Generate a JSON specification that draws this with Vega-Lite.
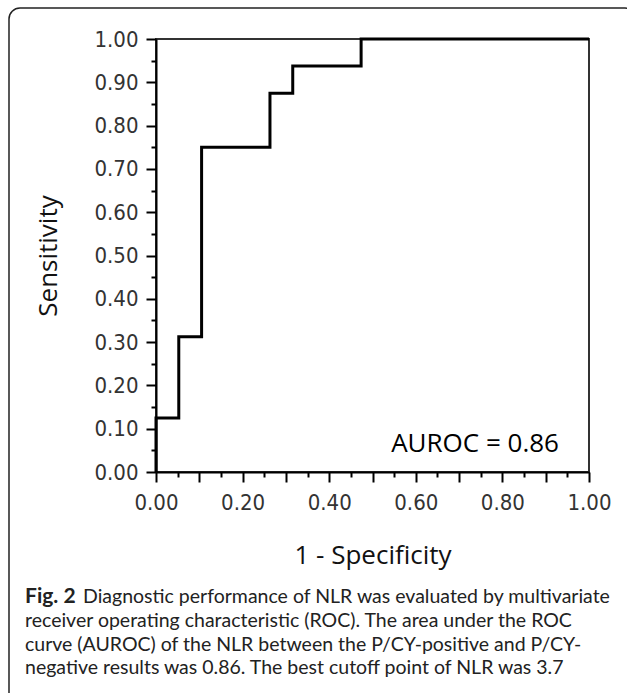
{
  "$schema": "https://vega.github.io/schema/vega-lite/v6.json",
  "autosize": "none",
  "width": 433,
  "height": 433,
  "padding": {"left": 156, "top": 39, "right": 38, "bottom": 221},
  "background": "#ffffff",
  "config": {
    "view": {"stroke": "#333333", "strokeWidth": 2},
    "axis": {"grid": false, "labelFlush": false, "labelOverlap": false}
  },
  "resolve": {"axis": {"x": "independent", "y": "independent"}},
  "layer": [
    {
      "data": {"values": [{}]},
      "mark": {"type": "rect", "fillOpacity": 0, "stroke": "#222222", "strokeWidth": 1.5, "cornerRadius": 11, "clip": false},
      "encoding": {
        "x": {"datum": -0.3395, "type": "quantitative", "scale": {"domain": [0, 1], "nice": false}, "axis": null},
        "x2": {"datum": 1.1085},
        "y": {"datum": 1.0716, "type": "quantitative", "scale": {"domain": [0, 1], "nice": false}, "axis": null},
        "y2": {"datum": -0.58}
      }
    },
    {
      "data": {"name": "roc", "values": [
        {"i": 0, "fpr": 0, "tpr": 0},
        {"i": 1, "fpr": 0, "tpr": 0.125},
        {"i": 2, "fpr": 0.0526, "tpr": 0.3125},
        {"i": 3, "fpr": 0.1053, "tpr": 0.75},
        {"i": 4, "fpr": 0.2632, "tpr": 0.875},
        {"i": 5, "fpr": 0.3158, "tpr": 0.9375},
        {"i": 6, "fpr": 0.4737, "tpr": 1},
        {"i": 7, "fpr": 1, "tpr": 1}
      ]},
      "mark": {"type": "line", "interpolate": "step-after", "color": "#000000", "strokeWidth": 3, "opacity": 0},
      "encoding": {
        "x": {"field": "fpr", "type": "quantitative", "scale": {"domain": [0, 1], "nice": false},
          "axis": {"orient": "bottom", "values": [0.05, 0.15, 0.25, 0.35, 0.45, 0.55, 0.65, 0.75, 0.85, 0.95],
            "labels": false, "domain": false, "title": null, "tickSize": 5, "tickWidth": 2, "tickColor": "#000000"}},
        "y": {"field": "tpr", "type": "quantitative", "scale": {"domain": [0, 1], "nice": false},
          "axis": {"orient": "left", "values": [0.05, 0.15, 0.25, 0.35, 0.45, 0.55, 0.65, 0.75, 0.85, 0.95],
            "labels": false, "domain": false, "title": null, "tickSize": 5, "tickWidth": 2, "tickColor": "#000000"}},
        "order": {"field": "i"}
      }
    },
    {
      "data": {"name": "roc"},
      "mark": {"type": "line", "interpolate": "step-after", "color": "#000000", "strokeWidth": 3},
      "encoding": {
        "x": {"field": "fpr", "type": "quantitative", "scale": {"domain": [0, 1], "nice": false},
          "axis": {"orient": "bottom", "values": [0, 0.1, 0.2, 0.3, 0.4, 0.5, 0.6, 0.7, 0.8, 0.9, 1],
            "format": ".2f", "labelExpr": "round(datum.value*10)%2==0 ? datum.label : ''",
            "tickSize": 10, "tickWidth": 2, "tickColor": "#000000", "domainColor": "#000000", "domainWidth": 2,
            "labelFont": "DejaVu Sans Condensed, DejaVu Sans", "labelFontSize": 22, "labelColor": "#333333", "labelPadding": 10,
            "title": "1 - Specificity", "titleFont": "Open Sans", "titleFontSize": 26, "titleFontWeight": "normal", "titleColor": "#111111", "titlePadding": 29}},
        "y": {"field": "tpr", "type": "quantitative", "scale": {"domain": [0, 1], "nice": false},
          "axis": {"orient": "left", "values": [0, 0.1, 0.2, 0.3, 0.4, 0.5, 0.6, 0.7, 0.8, 0.9, 1],
            "format": ".2f",
            "tickSize": 10, "tickWidth": 2, "tickColor": "#000000", "domainColor": "#000000", "domainWidth": 2,
            "labelFont": "DejaVu Sans Condensed, DejaVu Sans", "labelFontSize": 22, "labelColor": "#333333", "labelPadding": 8,
            "title": "Sensitivity", "titleFont": "Open Sans", "titleFontSize": 26, "titleFontWeight": "normal", "titleColor": "#111111", "titlePadding": 32}},
        "order": {"field": "i"}
      }
    },
    {
      "data": {"values": [{"label": "AUROC = 0.86"}]},
      "mark": {"type": "text", "align": "right", "baseline": "alphabetic", "font": "Open Sans", "fontSize": 26, "color": "#000000"},
      "encoding": {
        "x": {"datum": 0.9307, "type": "quantitative", "scale": {"domain": [0, 1], "nice": false}, "axis": null},
        "y": {"datum": 0.0455, "type": "quantitative", "scale": {"domain": [0, 1], "nice": false}, "axis": null},
        "text": {"field": "label"}
      }
    },
    {
      "data": {"values": [{"t": "Fig. 2"}]},
      "mark": {"type": "text", "align": "left", "baseline": "alphabetic", "font": "Lato", "fontWeight": "bold", "fontSize": 21, "color": "#222222", "clip": false},
      "encoding": {
        "x": {"datum": -0.3025, "type": "quantitative", "scale": {"domain": [0, 1], "nice": false}, "axis": null},
        "y": {"datum": -0.3025, "type": "quantitative", "scale": {"domain": [0, 1], "nice": false}, "axis": null},
        "text": {"field": "t"}
      }
    },
    {
      "data": {"values": [{"t": "Diagnostic performance of NLR was evaluated by multivariate"}]},
      "mark": {"type": "text", "align": "left", "baseline": "alphabetic", "font": "Lato", "fontSize": 19.5, "color": "#222222", "dx": 58, "clip": false},
      "encoding": {
        "x": {"datum": -0.3025, "type": "quantitative", "scale": {"domain": [0, 1], "nice": false}, "axis": null},
        "y": {"datum": -0.3025, "type": "quantitative", "scale": {"domain": [0, 1], "nice": false}, "axis": null},
        "text": {"field": "t"}
      }
    },
    {
      "data": {"values": [{"t": "receiver operating characteristic (ROC). The area under the ROC\ncurve (AUROC) of the NLR between the P/CY-positive and P/CY-\nnegative results was 0.86. The best cutoff point of NLR was 3.7"}]},
      "mark": {"type": "text", "align": "left", "baseline": "alphabetic", "font": "Lato", "fontSize": 19.5, "color": "#222222", "lineBreak": "\n", "lineHeight": 23.5, "clip": false},
      "encoding": {
        "x": {"datum": -0.3025, "type": "quantitative", "scale": {"domain": [0, 1], "nice": false}, "axis": null},
        "y": {"datum": -0.358, "type": "quantitative", "scale": {"domain": [0, 1], "nice": false}, "axis": null},
        "text": {"field": "t"}
      }
    }
  ]
}
